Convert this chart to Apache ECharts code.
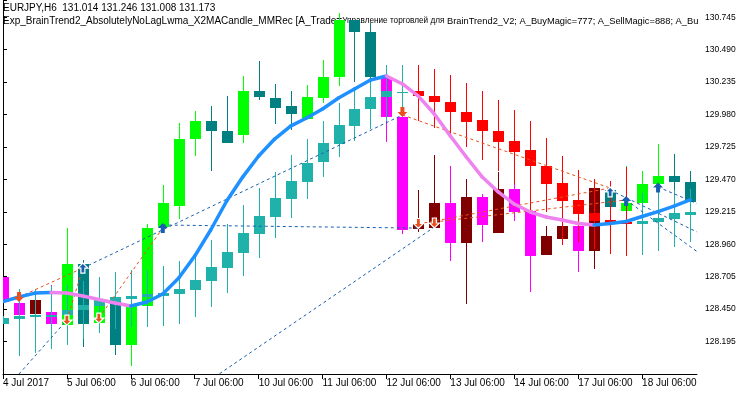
<!DOCTYPE html>
<html><head><meta charset="utf-8">
<script src="https://cdn.jsdelivr.net/npm/echarts@6/dist/echarts.min.js"></script>
<style>html,body{margin:0;padding:0;background:#fff}#c{width:750px;height:394px}</style>
</head><body><div id="c"></div>
<script>
// ---------------- DATA ----------------
const headerLine1 = 'EURJPY,H6  131.014 131.246 131.008 131.173';
const headerLine2a = 'Exp_BrainTrend2_AbsolutelyNoLagLwma_X2MACandle_MMRec [A_Trade=';
const headerLine2b = 'Управление торговлей для';
const headerLine2c = ' BrainTrend2_V2; A_BuyMagic=777; A_SellMagic=888; A_Bu';

// x tick labels, one every 4 bars (H6)
const tickLabels = ['4 Jul 2017','5 Jul 06:00','6 Jul 06:00','7 Jul 06:00','10 Jul 06:00','11 Jul 06:00','12 Jul 06:00','13 Jul 06:00','14 Jul 06:00','17 Jul 06:00','18 Jul 06:00'];
const yTickStart = 127.940, yTickStep = 0.255, yTop = 130.880;

// BrainTrend2 coloured price candles
const btTrend = 'DDDDUUUUUUUUUUUUUUUUUUUUDDDDDDDDDDDDDDUUUUUU'.split('');
const btOpen  = [128.702,128.502,128.411,128.427,128.325,128.808,128.337,128.549,128.168,128.470,129.099,129.257,129.783,129.925,129.850,129.819,130.161,130.113,130.047,129.944,130.113,130.271,130.719,130.632,130.275,129.964,129.084,129.091,129.288,128.974,129.335,129.052,129.394,129.225,128.875,129.001,129.103,128.903,129.390,129.221,129.288,129.430,129.496,129.453];
const btHigh  = [128.702,128.510,128.521,128.639,129.084,128.836,128.521,128.549,128.474,129.119,129.422,129.917,130.011,130.047,130.125,130.279,130.400,130.220,130.165,130.212,130.412,130.778,130.719,130.699,130.290,129.992,129.386,129.661,129.575,129.473,129.355,129.524,129.437,129.335,129.107,129.107,129.103,129.473,129.457,129.579,129.532,129.748,129.669,129.536];
const btLow   = [128.506,128.405,128.411,128.329,128.325,128.156,128.337,128.089,127.999,128.470,129.099,129.162,129.650,129.532,129.752,129.752,130.090,129.909,129.858,129.944,130.074,130.204,130.239,130.235,129.760,129.044,129.060,129.091,128.832,128.494,128.981,129.052,129.146,128.588,128.875,128.954,128.738,128.765,129.260,129.221,129.288,129.430,129.386,129.296];
const btClose = [128.506,128.411,128.521,128.329,128.808,128.337,128.521,128.168,128.474,129.084,129.288,129.787,129.925,129.846,129.752,130.161,130.113,130.035,129.984,130.117,130.275,130.723,130.625,130.275,129.964,129.076,129.123,129.288,128.974,129.335,129.111,129.394,129.217,128.875,129.021,129.107,128.907,129.402,129.260,129.284,129.437,129.496,129.445,129.296];

// X2MACandle smoothed candles
const smOpen  = [128.337,128.376,128.388,128.388,128.400,128.439,128.474,128.510,128.533,128.545,128.553,128.569,128.600,128.671,128.773,128.891,129.040,129.174,129.316,129.453,129.602,129.748,129.897,130.023,130.113,130.149,130.161,130.125,130.078,130.003,129.933,129.854,129.775,129.697,129.575,129.445,129.308,129.205,129.150,129.135,129.119,129.139,129.158,129.190];
const smHigh  = [128.396,128.612,128.612,128.631,128.639,128.671,128.706,128.738,128.757,128.761,128.789,128.832,128.887,128.993,129.123,129.268,129.402,129.528,129.661,129.791,129.929,130.074,130.172,130.251,130.369,130.369,130.369,130.338,130.290,130.231,130.161,130.094,130.015,129.925,129.795,129.654,129.540,129.469,129.457,129.567,129.359,129.378,129.390,129.398];
const smLow   = [128.330,128.081,128.109,128.140,128.168,128.215,128.266,128.297,128.313,128.313,128.317,128.333,128.392,128.470,128.580,128.710,128.852,129.009,129.166,129.319,129.485,129.642,129.768,129.866,129.925,129.964,129.925,129.870,129.811,129.728,129.626,129.532,129.437,129.225,129.217,128.954,128.981,128.926,128.883,128.867,128.879,128.903,128.942,128.974];
const smClose = [128.384,128.396,128.400,128.405,128.443,128.482,128.521,128.549,128.553,128.565,128.580,128.608,128.679,128.781,128.899,129.048,129.182,129.323,129.457,129.602,129.752,129.901,130.027,130.121,130.161,130.154,130.121,130.074,129.996,129.925,129.846,129.768,129.689,129.571,129.433,129.300,129.198,129.139,129.119,129.119,129.146,129.170,129.202,129.217];

// AbsolutelyNoLagLwma line
const noLag = [128.510,128.545,128.576,128.580,128.576,128.553,128.525,128.498,128.474,128.506,128.569,128.694,128.867,129.072,129.300,129.488,129.654,129.787,129.889,129.952,130.023,130.110,130.180,130.251,130.283,130.220,130.125,129.984,129.811,129.646,129.488,129.371,129.276,129.213,129.174,129.150,129.123,129.111,129.123,129.139,129.178,129.217,129.260,129.308];

// trade history lines: entry bar, entry price, exit bar, exit price
const buyLineFromBar  = [-1, 5, 10, 12, 38, 39, 41];
const buyLineFromPx   = [127.657, 128.773, 129.111, 127.809, 129.386, 129.308, 129.410];
const buyLineToBar    = [4, 25, 26, 27, 45, 45, 45];
const buyLineToPx     = [128.364, 129.976, 129.087, 129.095, 128.962, 128.760, 129.196];
const sellLineFromBar = [1, 4, 6, 25, 26, 27];
const sellLineFromPx  = [128.545, 128.364, 128.380, 129.976, 129.119, 129.135];
const sellLineToBar   = [5, 5, 10, 38, 38, 39];
const sellLineToPx    = [128.773, 128.773, 129.087, 129.402, 129.402, 129.308];

// deal arrows
const buyArrowBar   = [5, 10, 38, 39, 41];
const buyArrowPx    = [128.773, 129.087, 129.371, 129.300, 129.406];
const buyArrowExit  = [1, 0, 1, 0, 0];
const sellArrowBar  = [1, 4, 6, 25, 26, 27];
const sellArrowPx   = [128.545, 128.364, 128.380, 130.000, 129.123, 129.127];
const sellArrowExit = [0, 1, 1, 0, 1, 1];

// ---------------- STYLE ----------------
const C = {
  upBull:'#00FF00', upBear:'#008080', dnBear:'#FF00FF', dnBull:'#800000',
  smUp:'#20B2AA', smDn:'#FF0000', lineUp:'#1E90FF', lineDn:'#EE82EE',
  buy:'#1A5EB0', sell:'#E8501E'
};
const FONT = 'Liberation Sans';
const nBars = btOpen.length;

function candleItem(colorFn) {
  return function (params, api) {
    const i = api.value(0);
    const o = api.value(1), h = api.value(2), l = api.value(3), c = api.value(4);
    const color = colorFn(i, o, c);
    const band = api.size([1, 0])[0];
    const bodyW = Math.round(band * 11 / 16);
    const x = Math.round(api.coord([i, o])[0]);
    const yO = api.coord([i, o])[1], yC = api.coord([i, c])[1];
    const yH = api.coord([i, h])[1], yL = api.coord([i, l])[1];
    const top = Math.round(Math.min(yO, yC));
    const hgt = Math.max(1, Math.round(Math.abs(yO - yC)));
    return { type: 'group', children: [
      { type: 'line', shape: { x1: x + 0.5, y1: Math.round(yH), x2: x + 0.5, y2: Math.round(yL) }, style: { stroke: color, lineWidth: 1 } },
      { type: 'rect', shape: { x: x - Math.floor(bodyW / 2), y: top, width: bodyW, height: hgt }, style: { fill: color } }
    ]};
  };
}

const btData = btOpen.map((o, i) => [i, o, btHigh[i], btLow[i], btClose[i]]);
const smData = smOpen.map((o, i) => [i, o, smHigh[i], smLow[i], smClose[i]]);
const lineData = noLag.map((v, i) => [i, i > 0 ? noLag[i - 1] : v, v]);

const tradeData = [];
buyLineFromBar.forEach((b, k) => tradeData.push([b, buyLineFromPx[k], buyLineToBar[k], buyLineToPx[k], 0]));
sellLineFromBar.forEach((b, k) => tradeData.push([b, sellLineFromPx[k], sellLineToBar[k], sellLineToPx[k], 1]));

const upArrow = 'path://M5,0L10,5L7,5L7,10L3,10L3,5L0,5Z';
const dnArrow = 'path://M3,0L7,0L7,5L10,5L5,10L0,5L3,5Z';

const buyPts = buyArrowBar.map((b, k) => ({ value: [b, buyArrowPx[k]],
  itemStyle: buyArrowExit[k] ? { borderColor: '#ffffff', borderWidth: 1.2 } : {} }));
const sellPts = sellArrowBar.map((b, k) => ({ value: [b, sellArrowPx[k]],
  itemStyle: sellArrowExit[k] ? { borderColor: '#ffffff', borderWidth: 1.2 } : {} }));

const chart = echarts.init(document.getElementById('c'), null, { renderer: 'canvas' });
const yLabel = v => {
  const k = (v - yTickStart) / yTickStep;
  if (Math.abs(k - Math.round(k)) > 1e-6 || Math.round(k) === 0) return '';
  return v.toFixed(3);
};
const hdrRich = {
  a: { fontFamily: FONT, fontSize: 10, color: '#000', lineHeight: 12, verticalAlign: 'middle' },
  b: { fontFamily: FONT, fontSize: 8.2, color: '#000', lineHeight: 12, verticalAlign: 'middle' },
  c: { fontFamily: FONT, fontSize: 9.3, color: '#000', lineHeight: 12, verticalAlign: 'middle' }
};
chart.setOption({
  animation: false,
  backgroundColor: '#ffffff',
  title: [
    { text: headerLine1, left: 3, top: 3, padding: 0, z: 0,
      textStyle: { fontFamily: FONT, fontSize: 10, fontWeight: 'normal', color: '#000' } },
    { text: '{a|' + headerLine2a + '}{b|' + headerLine2b + '}{c|' + headerLine2c + '}', left: 3, top: 15, padding: 0, z: 0,
      textStyle: { fontFamily: FONT, fontSize: 10, fontWeight: 'normal', color: '#000', rich: hdrRich } }
  ],
  grid: { left: 2, right: 53, top: 0, bottom: 20, containLabel: false },
  xAxis: {
    type: 'value', min: 0, max: nBars - 1 + 0.4375, interval: 4,
    axisLine: { show: true, lineStyle: { color: '#000', width: 1 } },
    axisTick: { show: true, length: 5, lineStyle: { color: '#000' } },
    splitLine: { show: false },
    axisLabel: { show: true, color: '#000', fontFamily: FONT, fontSize: 10, margin: 4, align: 'left',
      showMaxLabel: false,
      formatter: v => (Number.isInteger(v / 4) && tickLabels[v / 4]) ? tickLabels[v / 4] : '' }
  },
  yAxis: [
    { type: 'value', position: 'right', min: yTickStart, max: yTop, interval: yTickStep, scale: true,
      axisLine: { show: true, lineStyle: { color: '#000', width: 1 } },
      axisTick: { show: true, length: 4, lineStyle: { color: '#000' } },
      splitLine: { show: false },
      axisLabel: { color: '#000', fontFamily: FONT, fontSize: 8.5, margin: 8, formatter: yLabel } },
    { type: 'value', position: 'left', min: yTickStart, max: yTop, interval: yTickStep, scale: true,
      axisLine: { show: true, onZero: false, lineStyle: { color: '#000', width: 1 } },
      axisTick: { show: false }, axisLabel: { show: false }, splitLine: { show: false } }
  ],
  series: [
    { type: 'custom', name: 'BrainTrend2', z: 2, clip: true, data: btData,
      encode: { x: 0, y: [1, 2, 3, 4] },
      renderItem: candleItem((i, o, c) => btTrend[i] === 'U' ? (c >= o ? C.upBull : C.upBear) : (c >= o ? C.dnBull : C.dnBear)) },
    { type: 'custom', name: 'X2MACandle', z: 3, clip: true, data: smData,
      encode: { x: 0, y: [1, 2, 3, 4] },
      renderItem: candleItem((i, o, c) => c >= o ? C.smUp : C.smDn) },
    { type: 'custom', name: 'Trades', z: 4, clip: true, data: tradeData,
      encode: { x: [0, 2], y: [1, 3] },
      renderItem: (params, api) => {
        const p1 = api.coord([api.value(0), api.value(1)]);
        const p2 = api.coord([api.value(2), api.value(3)]);
        return { type: 'line', shape: { x1: p1[0], y1: p1[1], x2: p2[0], y2: p2[1] },
          style: { stroke: api.value(4) ? C.sell : C.buy, lineWidth: 1, lineDash: [3, 3] } };
      } },
    { type: 'custom', name: 'NoLagLwma', z: 5, clip: true, data: lineData,
      encode: { x: 0, y: [1, 2] },
      renderItem: (params, api) => {
        const i = api.value(0);
        if (i === 0) return null;
        const p0 = api.coord([i - 1, api.value(1)]);
        const p1 = api.coord([i, api.value(2)]);
        return { type: 'line', shape: { x1: p0[0], y1: p0[1], x2: p1[0], y2: p1[1] },
          style: { stroke: api.value(2) >= api.value(1) ? C.lineUp : C.lineDn, lineWidth: 3.5, lineCap: 'round' } };
      } },
    { type: 'scatter', name: 'Buy', z: 6, data: buyPts, symbol: upArrow, symbolSize: [10, 10],
      itemStyle: { color: C.buy, opacity: 1 } },
    { type: 'scatter', name: 'Sell', z: 6, data: sellPts, symbol: dnArrow, symbolSize: [10, 10],
      itemStyle: { color: C.sell, opacity: 1 } }
  ]
});
</script></body></html>
